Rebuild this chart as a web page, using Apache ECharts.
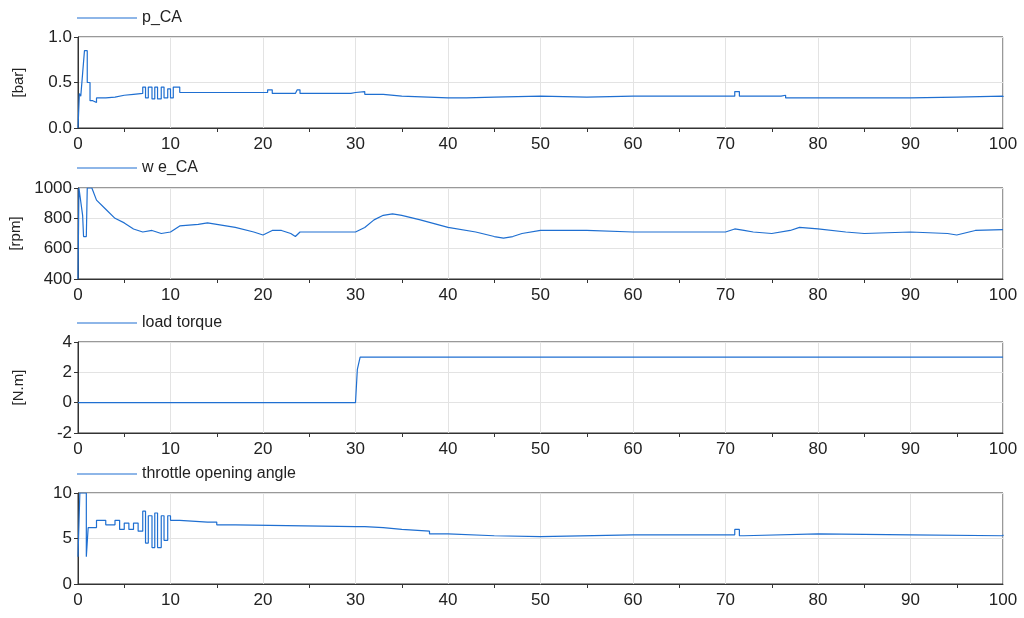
<!DOCTYPE html>
<html><head><meta charset="utf-8">
<script src="https://cdn.jsdelivr.net/npm/echarts@6/dist/echarts.min.js"></script>
<style>html,body{margin:0;background:#fff}#c{width:1024px;height:618px}</style>
</head><body><div id="c"></div>
<script>
var names = ["p_CA", "w e_CA", "load torque", "throttle opening angle"];
var units = ["[bar]", "[rpm]", "[N.m]", ""];
var pCA = [[0,0],[0.15,0.38],[0.3,0.35],[0.5,0.6],[0.7,0.85],[0.85,0.85],[1.0,0.5],[1.3,0.3],[1.6,0.28],[2,0.33],[3,0.34],[4,0.36],[5,0.37],[6,0.38],[7,0.45],[7.3,0.33],[7.6,0.45],[8,0.32],[8.3,0.45],[8.6,0.32],[9,0.45],[9.3,0.33],[9.7,0.43],[10,0.33],[10.3,0.45],[11,0.39],[20,0.39],[20.5,0.42],[21,0.38],[23.5,0.38],[23.7,0.42],[24,0.38],[29.5,0.39],[30,0.4],[31,0.37],[33,0.35],[35,0.33],[40,0.33],[42,0.34],[45,0.35],[50,0.34],[55,0.35],[60,0.35],[70,0.35],[71,0.4],[71.5,0.35],[76,0.36],[76.5,0.33],[85,0.33],[90,0.34],[95,0.35],[100,0.34]];
var weCA = [[0,400],[0.1,1000],[0.3,1000],[0.5,820],[0.6,680],[0.9,680],[1.0,1000],[1.5,1000],[2,920],[3,860],[4,800],[5,770],[6,730],[7,710],[8,720],[9,700],[10,710],[11,750],[13,760],[14,770],[15,760],[17,740],[19,710],[20,690],[21,720],[22,720],[23,700],[23.5,680],[24,710],[30,710],[31,740],[32,790],[33,820],[34,830],[35,820],[37,790],[40,740],[43,710],[45,680],[46,670],[47,680],[48,700],[50,720],[55,720],[60,710],[65,710],[70,710],[71,730],[72,720],[73,710],[75,700],[77,720],[78,740],[80,730],[83,710],[85,700],[90,710],[94,700],[95,690],[97,720],[100,725]];
var torque = [[0,0],[30,0],[30.2,2.2],[30.5,3],[100,3]];
var throttle = [[0,3],[0.2,10],[0.5,10],[0.7,10],[0.9,3],[1.1,6.2],[2,7],[3,6.5],[4,7],[4.5,6],[5,6.7],[5.5,6],[6,6.7],[6.5,5.8],[7,8],[7.3,4.5],[7.6,7.5],[8,4],[8.3,7.8],[8.6,4],[9,7.5],[9.3,4.8],[9.7,7.5],[10,7],[11,6.8],[14,6.8],[15,6.5],[17,6.3],[30,6.3],[31,6.2],[33,6],[35,5.8],[38,5.5],[40,5.3],[45,5.2],[50,5.4],[60,5.4],[70,5.4],[71,6],[71.5,5.3],[72,5.5],[80,5.4],[90,5.3],[100,5.4]];
var seriesData = [pCA, weCA, torque, throttle];
var yRange = [[0,1,0.5],[400,1000,200],[-2,4,2],[0,10,5]];
var tops = [37, 188, 342, 493];
var legendTops = [5, 155, 310, 461];
var steps = ["end", false, false, "end"];

var font = "Liberation Sans";
var grids = [], xAxes = [], yAxes = [], series = [], legends = [];
for (var i = 0; i < 4; i++) {
  grids.push({left: 78, width: 925, top: tops[i], height: 91, show: true, borderColor: "#333", borderWidth: 1});
  xAxes.push({type: "value", gridIndex: i, min: 0, max: 100, interval: 10,
    axisLine: {onZero: false, lineStyle: {color: "#333"}}, axisTick: {show: false},
    minorTick: {show: true, splitNumber: 2, length: 4, lineStyle: {color: "#333"}},
    axisLabel: {color: "#222", fontSize: 17, fontFamily: font, margin: 8},
    splitLine: {lineStyle: {color: "#e3e3e3"}}});
  yAxes.push({type: "value", gridIndex: i, min: yRange[i][0], max: yRange[i][1], interval: yRange[i][2],
    name: units[i], nameLocation: "middle", nameGap: 52, nameRotate: 90,
    nameTextStyle: {color: "#222", fontSize: 15, fontFamily: font},
    axisLine: {show: true, onZero: false, lineStyle: {color: "#333"}}, axisTick: {show: true, length: 4, lineStyle: {color: "#333"}},
    axisLabel: {color: "#222", fontSize: 17, fontFamily: font, margin: 6,
      formatter: i === 0 ? function (v) { return v.toFixed(1); } : function (v) { return String(v); }},
    splitLine: {lineStyle: {color: "#e3e3e3"}}});
  series.push({name: names[i], type: "line", step: steps[i], xAxisIndex: i, yAxisIndex: i, data: seriesData[i],
    showSymbol: false, lineStyle: {color: "#1f6fd1", width: 1.2}, itemStyle: {color: "#1f6fd1"}, animation: false});
  legends.push({data: [names[i]], left: 72, top: legendTops[i], itemWidth: 60, itemHeight: 14, icon: "path://M0,7L60,7L60,8L0,8Z",
    textStyle: {color: "#222", fontSize: 16, fontFamily: font}, itemGap: 10});
}
var chart = echarts.init(document.getElementById("c"));
chart.setOption({animation: false, grid: grids, xAxis: xAxes, yAxis: yAxes, series: series, legend: legends});
</script></body></html>
